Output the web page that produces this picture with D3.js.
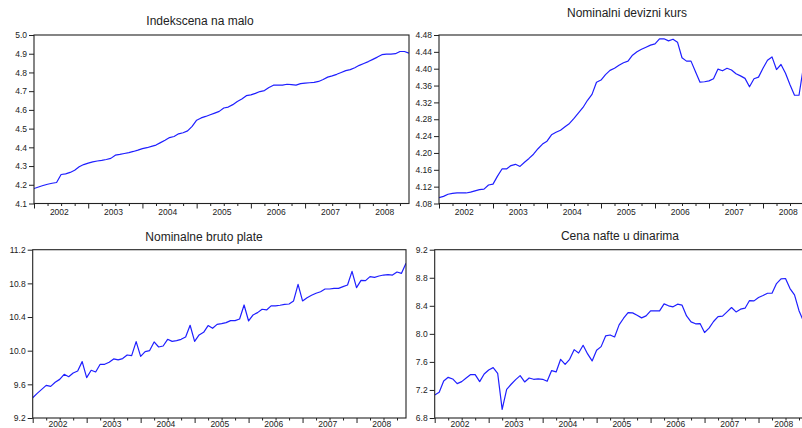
<!DOCTYPE html>
<html>
<head>
<meta charset="utf-8">
<script src="https://cdn.jsdelivr.net/npm/d3@7"></script>
<style>
  html, body { margin: 0; padding: 0; background: #fff; }
  svg { display: block; font-family: "Liberation Sans", Arial, sans-serif; }
  .tick text { fill: #222; }
  .tick line { stroke: #222; }
</style>
</head>
<body>
<svg id="chart" width="802" height="428"></svg>
<script>
// Monthly observations, 2002m1 onwards
const years = ["2002", "2003", "2004", "2005", "2006", "2007", "2008"];

// Retail price index (log)
const retailPrices = [
  4.180, 4.188, 4.196, 4.203, 4.208, 4.212, 4.255, 4.258, 4.266, 4.278, 4.296, 4.308,
  4.316, 4.322, 4.327, 4.330, 4.335, 4.341, 4.358, 4.362, 4.367, 4.372, 4.378, 4.385,
  4.393, 4.398, 4.405, 4.412, 4.425, 4.438, 4.452, 4.458, 4.472, 4.478, 4.488, 4.512,
  4.545, 4.557, 4.565, 4.574, 4.583, 4.592, 4.610, 4.615, 4.628, 4.645, 4.658, 4.676,
  4.680, 4.688, 4.698, 4.703, 4.720, 4.732, 4.733, 4.732, 4.737, 4.735, 4.732, 4.740,
  4.743, 4.745, 4.747, 4.752, 4.762, 4.775, 4.782, 4.790, 4.800, 4.810, 4.815, 4.825,
  4.838, 4.848, 4.858, 4.870, 4.882, 4.895, 4.898, 4.898, 4.900, 4.912, 4.912, 4.903
];

// Nominal exchange rate (log)
const exchangeRate = [
  4.094, 4.097, 4.102, 4.104, 4.105, 4.105, 4.105, 4.107, 4.110, 4.113, 4.114, 4.124,
  4.126, 4.145, 4.162, 4.162, 4.170, 4.173, 4.168, 4.178, 4.187, 4.197, 4.210, 4.221,
  4.228, 4.243, 4.249, 4.254, 4.262, 4.270, 4.282, 4.295, 4.308, 4.325, 4.339, 4.368,
  4.373, 4.386, 4.396, 4.401, 4.408, 4.414, 4.418, 4.432, 4.440, 4.446, 4.451, 4.456,
  4.459, 4.471, 4.471, 4.466, 4.470, 4.463, 4.426, 4.418, 4.418, 4.393, 4.368, 4.369,
  4.371, 4.376, 4.399, 4.395, 4.401, 4.397, 4.388, 4.383, 4.377, 4.357, 4.376, 4.380,
  4.401, 4.420, 4.428, 4.398, 4.410, 4.389, 4.362, 4.337, 4.337, 4.405
];

// Nominal gross wages (log)
const grossWages = [
  9.441, 9.493, 9.540, 9.588, 9.576, 9.624, 9.659, 9.719, 9.691, 9.735, 9.759, 9.870,
  9.680, 9.767, 9.747, 9.838, 9.838, 9.862, 9.902, 9.890, 9.906, 9.949, 9.941, 10.107,
  9.933, 9.989, 10.001, 10.104, 10.044, 10.056, 10.135, 10.111, 10.119, 10.135, 10.163, 10.302,
  10.111, 10.187, 10.218, 10.298, 10.266, 10.313, 10.322, 10.334, 10.357, 10.357, 10.377, 10.543,
  10.353, 10.425, 10.452, 10.492, 10.484, 10.532, 10.532, 10.540, 10.551, 10.555, 10.591, 10.789,
  10.591, 10.630, 10.658, 10.682, 10.701, 10.733, 10.733, 10.741, 10.741, 10.761, 10.780, 10.943,
  10.749, 10.836, 10.832, 10.880, 10.872, 10.887, 10.899, 10.903, 10.899, 10.935, 10.919, 11.038
];

// Oil price in dinars (log)
const oilPrice = [
  7.128, 7.166, 7.328, 7.380, 7.357, 7.290, 7.319, 7.371, 7.419, 7.419, 7.319, 7.428,
  7.485, 7.518, 7.438, 6.924, 7.209, 7.281, 7.347, 7.404, 7.314, 7.371, 7.352, 7.357,
  7.352, 7.324, 7.476, 7.457, 7.637, 7.566, 7.637, 7.775, 7.727, 7.837, 7.714, 7.614,
  7.766, 7.818, 7.970, 7.984, 7.956, 8.128, 8.223, 8.304, 8.299, 8.266, 8.228, 8.256,
  8.328, 8.328, 8.328, 8.428, 8.400, 8.385, 8.423, 8.409, 8.256, 8.171, 8.143, 8.147,
  8.019, 8.081, 8.176, 8.247, 8.252, 8.313, 8.375, 8.313, 8.352, 8.366, 8.475, 8.470,
  8.518, 8.546, 8.579, 8.579, 8.717, 8.784, 8.789, 8.646, 8.556, 8.330, 8.180
];

// Vertical tick values for each panel
const retailTicks = [4.1, 4.2, 4.3, 4.4, 4.5, 4.6, 4.7, 4.8, 4.9, 5.0];
const exchangeTicks = [4.08, 4.12, 4.16, 4.20, 4.24, 4.28, 4.32, 4.36, 4.40, 4.44, 4.48];
const wageTicks = [9.2, 9.6, 10.0, 10.4, 10.8, 11.2];
const oilTicks = [6.8, 7.2, 7.6, 8.0, 8.4, 8.8, 9.2];

const titles = ["Indekscena na malo", "Nominalni devizni kurs", "Nominalne bruto plate", "Cena nafte u dinarima"];

const nObs = years.length * 12;

// Panel layout: plot box, title anchor and year-label padding
const panels = [
  { title: titles[0], values: retailPrices, ticks: retailTicks, fmt: d3.format(".1f"),
    left: 34, right: 409, top: 35, bottom: 203.5, tx: 200, ty: 25, pad: 5.5 },
  { title: titles[1], values: exchangeRate, ticks: exchangeTicks, fmt: d3.format(".2f"),
    left: 439, right: 812.5, top: 35, bottom: 203.5, tx: 627, ty: 17, pad: 5.5 },
  { title: titles[2], values: grossWages, ticks: wageTicks, fmt: d3.format(".1f"),
    left: 32.7, right: 406, top: 249.7, bottom: 418, tx: 204, ty: 240.5, pad: 3 },
  { title: titles[3], values: oilPrice, ticks: oilTicks, fmt: d3.format(".1f"),
    left: 434.7, right: 808, top: 249.7, bottom: 418, tx: 620, ty: 240, pad: 3 }
];

const svg = d3.select("#chart");

const yearStarts = d3.range(0, nObs, 12);
const quarterTicks = d3.range(0, nObs, 3).filter(i => i % 12 !== 0);
const yearMids = yearStarts.map(i => i + 5.5);

panels.forEach((p, k) => {
  const g = svg.append("g");

  const x = d3.scaleLinear().domain([0, nObs - 1]).range([p.left, p.right]);
  const y = d3.scaleLinear().domain(d3.extent(p.ticks)).range([p.bottom, p.top]);

  // title
  g.append("text")
    .attr("x", p.tx).attr("y", p.ty)
    .attr("text-anchor", "middle")
    .attr("font-size", 12)
    .attr("fill", "#222")
    .text(p.title);

  // left axis
  const ya = g.append("g")
    .attr("transform", `translate(${p.left},0)`)
    .call(d3.axisLeft(y).tickValues(p.ticks).tickFormat(p.fmt).tickSize(5).tickPadding(2));
  ya.select(".domain").remove();
  ya.selectAll("text").attr("font-size", 8.5);

  // quarterly minor ticks
  const xMinor = g.append("g")
    .attr("transform", `translate(0,${p.bottom})`)
    .call(d3.axisBottom(x).tickValues(quarterTicks).tickFormat("").tickSize(2.5));
  xMinor.select(".domain").remove();

  // year ticks
  const xMajor = g.append("g")
    .attr("transform", `translate(0,${p.bottom})`)
    .call(d3.axisBottom(x).tickValues(yearStarts).tickFormat("").tickSize(5));
  xMajor.select(".domain").remove();

  // year labels centred on each year
  const xLab = g.append("g")
    .attr("transform", `translate(0,${p.bottom})`)
    .call(d3.axisBottom(x).tickValues(yearMids)
      .tickFormat((d, i) => years[i]).tickSize(0).tickPadding(p.pad));
  xLab.select(".domain").remove();
  xLab.selectAll("text").attr("font-size", 8.5);

  // clip for the series
  const clipId = "clip" + k;
  svg.append("clipPath").attr("id", clipId)
    .append("rect")
    .attr("x", p.left).attr("y", p.top)
    .attr("width", p.right - p.left).attr("height", p.bottom - p.top);

  g.append("path")
    .datum(p.values)
    .attr("clip-path", `url(#${clipId})`)
    .attr("fill", "none")
    .attr("stroke", "#1f1fff")
    .attr("stroke-width", 1.2)
    .attr("stroke-linejoin", "round")
    .attr("d", d3.line().x((d, i) => x(i)).y(d => y(d)));

  // frame
  g.append("rect")
    .attr("x", p.left).attr("y", p.top)
    .attr("width", p.right - p.left).attr("height", p.bottom - p.top)
    .attr("fill", "none")
    .attr("stroke", "#222")
    .attr("stroke-width", 1.1);
});
</script>
</body>
</html>
